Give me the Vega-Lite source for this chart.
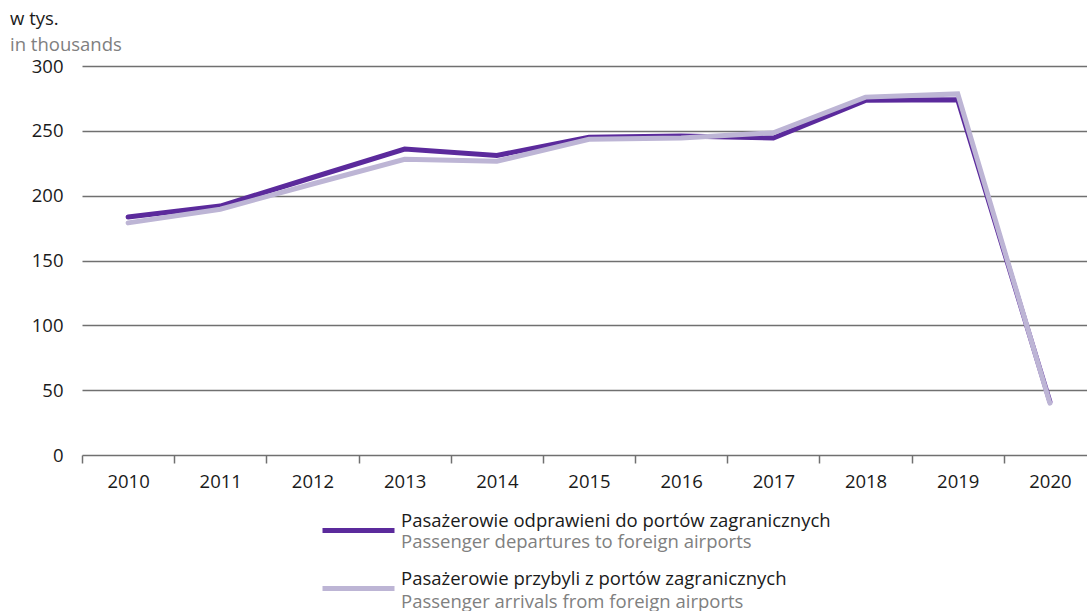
{
  "$schema": "https://vega.github.io/schema/vega-lite/v6.json",
  "width": 1005,
  "height": 389,
  "autosize": {"type": "none"},
  "padding": {"left": 82, "top": 66, "right": 0, "bottom": 156},
  "background": "white",
  "config": {
    "font": "Open Sans",
    "view": {"stroke": null},
    "title": {"font": "Open Sans"},
    "axis": {"labelFont": "Open Sans"},
    "legend": {"labelFont": "Open Sans"}
  },
  "title": {
    "text": "w tys.",
    "subtitle": "in thousands",
    "anchor": "start",
    "frame": "group",
    "dx": -72,
    "offset": 3,
    "fontSize": 18.5,
    "fontWeight": "normal",
    "color": "#1a1a1a",
    "subtitleFontSize": 18.5,
    "subtitleColor": "#808080",
    "subtitlePadding": 7
  },
  "data": {
    "values": [
      {"year": "2010", "pl": "Pasażerowie odprawieni do portów zagranicznych", "en": "Passenger departures to foreign airports", "value": 183.5},
      {"year": "2011", "pl": "Pasażerowie odprawieni do portów zagranicznych", "en": "Passenger departures to foreign airports", "value": 192},
      {"year": "2012", "pl": "Pasażerowie odprawieni do portów zagranicznych", "en": "Passenger departures to foreign airports", "value": 214},
      {"year": "2013", "pl": "Pasażerowie odprawieni do portów zagranicznych", "en": "Passenger departures to foreign airports", "value": 236},
      {"year": "2014", "pl": "Pasażerowie odprawieni do portów zagranicznych", "en": "Passenger departures to foreign airports", "value": 231},
      {"year": "2015", "pl": "Pasażerowie odprawieni do portów zagranicznych", "en": "Passenger departures to foreign airports", "value": 245},
      {"year": "2016", "pl": "Pasażerowie odprawieni do portów zagranicznych", "en": "Passenger departures to foreign airports", "value": 246},
      {"year": "2017", "pl": "Pasażerowie odprawieni do portów zagranicznych", "en": "Passenger departures to foreign airports", "value": 244.5},
      {"year": "2018", "pl": "Pasażerowie odprawieni do portów zagranicznych", "en": "Passenger departures to foreign airports", "value": 273.5},
      {"year": "2019", "pl": "Pasażerowie odprawieni do portów zagranicznych", "en": "Passenger departures to foreign airports", "value": 274},
      {"year": "2020", "pl": "Pasażerowie odprawieni do portów zagranicznych", "en": "Passenger departures to foreign airports", "value": 41},
      {"year": "2010", "pl": "Pasażerowie przybyli z portów zagranicznych", "en": "Passenger arrivals from foreign airports", "value": 179},
      {"year": "2011", "pl": "Pasażerowie przybyli z portów zagranicznych", "en": "Passenger arrivals from foreign airports", "value": 189.5},
      {"year": "2012", "pl": "Pasażerowie przybyli z portów zagranicznych", "en": "Passenger arrivals from foreign airports", "value": 209},
      {"year": "2013", "pl": "Pasażerowie przybyli z portów zagranicznych", "en": "Passenger arrivals from foreign airports", "value": 228},
      {"year": "2014", "pl": "Pasażerowie przybyli z portów zagranicznych", "en": "Passenger arrivals from foreign airports", "value": 226.5},
      {"year": "2015", "pl": "Pasażerowie przybyli z portów zagranicznych", "en": "Passenger arrivals from foreign airports", "value": 243.5},
      {"year": "2016", "pl": "Pasażerowie przybyli z portów zagranicznych", "en": "Passenger arrivals from foreign airports", "value": 244.5},
      {"year": "2017", "pl": "Pasażerowie przybyli z portów zagranicznych", "en": "Passenger arrivals from foreign airports", "value": 248.5},
      {"year": "2018", "pl": "Pasażerowie przybyli z portów zagranicznych", "en": "Passenger arrivals from foreign airports", "value": 276},
      {"year": "2019", "pl": "Pasażerowie przybyli z portów zagranicznych", "en": "Passenger arrivals from foreign airports", "value": 278.5},
      {"year": "2020", "pl": "Pasażerowie przybyli z portów zagranicznych", "en": "Passenger arrivals from foreign airports", "value": 40}
    ]
  },
  "mark": {"type": "line", "strokeWidth": 5, "strokeCap": "round", "strokeJoin": "miter"},
  "encoding": {
    "x": {
      "field": "year",
      "type": "ordinal",
      "scale": {"type": "band", "paddingInner": 0, "paddingOuter": 0, "range": [0, 1014]},
      "axis": {
        "title": null,
        "domain": false,
        "tickBand": "extent",
        "tickSize": 8,
        "tickWidth": 1.5,
        "tickColor": "#707070",
        "labelAngle": 0,
        "labelFontSize": 18.5,
        "labelColor": "#1a1a1a",
        "labelPadding": 9,
        "grid": false
      }
    },
    "y": {
      "field": "value",
      "type": "quantitative",
      "scale": {"domain": [0, 300]},
      "axis": {
        "title": null,
        "values": [0, 50, 100, 150, 200, 250, 300],
        "domain": false,
        "ticks": false,
        "labelPadding": 19,
        "labelFontSize": 18.5,
        "labelColor": "#1a1a1a",
        "grid": true,
        "gridColor": "#707070",
        "gridWidth": 1.5
      }
    },
    "stroke": {
      "field": "pl",
      "type": "nominal",
      "scale": {
        "domain": ["Pasażerowie odprawieni do portów zagranicznych", "Pasażerowie przybyli z portów zagranicznych"],
        "range": ["#5b2a9c", "#bdb5d5"]
      },
      "legend": {
        "orient": "none",
        "legendX": 238,
        "legendY": 426,
        "direction": "vertical",
        "title": null,
        "padding": 0,
        "symbolType": "stroke",
        "symbolSize": 5184,
        "symbolStrokeWidth": 5,
        "labelFontSize": 18.5,
        "labelColor": "#1a1a1a",
        "labelBaseline": "bottom",
        "labelLimit": 0,
        "labelOffset": 4,
        "rowPadding": 9
      }
    },
    "opacity": {
      "field": "en",
      "type": "nominal",
      "scale": {
        "type": "ordinal",
        "domain": ["Passenger departures to foreign airports", "Passenger arrivals from foreign airports"],
        "range": [1, 1]
      },
      "legend": {
        "orient": "none",
        "legendX": 238,
        "legendY": 437,
        "direction": "vertical",
        "title": null,
        "padding": 0,
        "symbolType": "stroke",
        "symbolSize": 5184,
        "symbolStrokeWidth": 5,
        "symbolStrokeColor": "transparent",
        "symbolFillColor": "transparent",
        "labelFontSize": 18.5,
        "labelColor": "#808080",
        "labelLimit": 0,
        "labelOffset": 4,
        "rowPadding": 11
      }
    }
  }
}
